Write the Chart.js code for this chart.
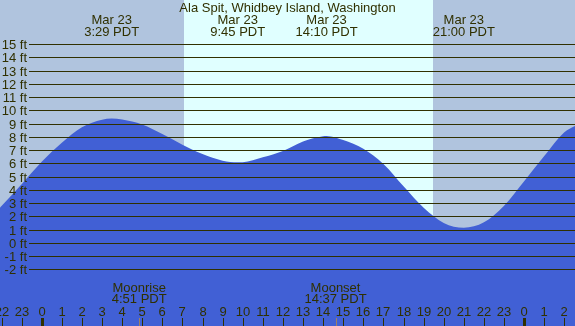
<!DOCTYPE html>
<html>
<head>
<meta charset="utf-8">
<script src="https://cdn.jsdelivr.net/npm/chart.js@4/dist/chart.umd.min.js"></script>
<style>
html,body{margin:0;padding:0;background:#b0c4de;}
canvas{display:block;}
</style>
</head>
<body>
<canvas id="c" width="575" height="326"></canvas>
<script>
// ---- data ----
const titleText = "Ala Spit, Whidbey Island, Washington";
const hours  = [-2.1, -2, -1, 0, 1, 2, 3, 3.48, 4, 5, 6, 7, 8, 9, 9.75, 10, 11, 12, 13, 14, 14.17, 15, 16, 17, 18, 19, 20, 21, 22, 23, 24, 25, 26, 26.6];
const heights = [2.6, 2.77, 4.42, 6.12, 7.55, 8.72, 9.28, 9.37, 9.3, 8.93, 8.2, 7.4, 6.7, 6.2, 6.07, 6.08, 6.45, 6.93, 7.65, 8.04, 8.06, 7.75, 7.1, 5.95, 4.26, 2.64, 1.5, 1.14, 1.55, 2.8, 4.65, 6.55, 8.35, 8.88];
const ftTicks = [15,14,13,12,11,10,9,8,7,6,5,4,3,2,1,0,-1,-2];
const hourTicks = [-2,-1,0,1,2,3,4,5,6,7,8,9,10,11,12,13,14,15,16,17,18,19,20,21,22,23,24,25,26];
const eventTimes = [3.48, 9.75, 14.17, 21.0];
const eventLabels = [["Mar 23","3:29 PDT"],["Mar 23","9:45 PDT"],["Mar 23","14:10 PDT"],["Mar 23","21:00 PDT"]];
const moonTimes = [4.85, 14.617];
const moonLabels = [["Moonrise","4:51 PDT"],["Moonset","14:37 PDT"]];
const sunrise = 7.08, sunset = 19.47;

const NIGHT = '#b0c4de', DAY = '#e0ffff', WATER = '#4160d5', INK = '#303000';
const FONT = '13px "Liberation Sans", Arial, sans-serif';

const tidePlugin = {
  id: 'tide',
  beforeDraw(chart) {
    const {ctx, scales:{x}} = chart;
    ctx.save();
    ctx.fillStyle = NIGHT;
    ctx.fillRect(0, 0, chart.width, chart.height);
    const x1 = Math.round(x.getPixelForValue(sunrise));
    const x2 = Math.round(x.getPixelForValue(sunset));
    ctx.fillStyle = DAY;
    ctx.fillRect(x1, 0, x2 - x1, chart.height);
    ctx.restore();
  },
  afterDatasetsDraw(chart) {
    const {ctx, scales:{x, y}} = chart;
    ctx.save();
    ctx.font = FONT;
    ctx.fillStyle = INK;
    ctx.strokeStyle = INK;
    ctx.lineWidth = 1;
    ctx.textAlign = 'right';
    ctx.textBaseline = 'middle';
    ftTicks.forEach(v => {
      const py = Math.round(y.getPixelForValue(v)) + 0.5;
      ctx.beginPath();
      ctx.moveTo(29, py);
      ctx.lineTo(chart.width, py);
      ctx.stroke();
      ctx.fillText(v + ' ft', 27, py + 0.5);
    });
    ctx.textAlign = 'center';
    ctx.textBaseline = 'alphabetic';
    ctx.fillText(titleText, chart.width / 2, 12);
    eventTimes.forEach((t, i) => {
      const px = x.getPixelForValue(t);
      ctx.fillText(eventLabels[i][0], px, 24);
      ctx.fillText(eventLabels[i][1], px, 36);
    });
    moonTimes.forEach((t, i) => {
      const px = x.getPixelForValue(t);
      ctx.fillText(moonLabels[i][0], px, 291.5);
      ctx.fillText(moonLabels[i][1], px, 303);
    });
    hourTicks.forEach(h => {
      const px = Math.round(x.getPixelForValue(h));
      const hh = ((h % 24) + 24) % 24;
      ctx.fillText(String(hh), px, 316);
      if (hh === 0) ctx.fillRect(px - 1, 318, 3, 8);
      else ctx.fillRect(px, 318, 1, 8);
    });
    ctx.fillStyle = '#a08060';
    moonTimes.forEach(t => {
      const px = Math.round(x.getPixelForValue(t));
      ctx.fillRect(px, 318, 1, 8);
    });
    ctx.restore();
  }
};

new Chart(document.getElementById('c'), {
  type: 'line',
  data: {
    datasets: [{
      data: hours.map((h, i) => ({x: h, y: heights[i]})),
      backgroundColor: WATER,
      borderColor: WATER,
      borderWidth: 0,
      pointRadius: 0,
      fill: 'start',
      cubicInterpolationMode: 'monotone'
    }]
  },
  options: {
    responsive: false,
    animation: false,
    devicePixelRatio: 1,
    layout: {padding: 0},
    plugins: {legend: {display: false}, title: {display: false}, tooltip: {enabled: false}},
    scales: {
      x: {type: 'linear', min: -2.075, max: 26.53, display: false},
      y: {type: 'linear', min: -6.278, max: 18.32, display: false}
    }
  },
  plugins: [tidePlugin]
});
</script>
</body>
</html>
